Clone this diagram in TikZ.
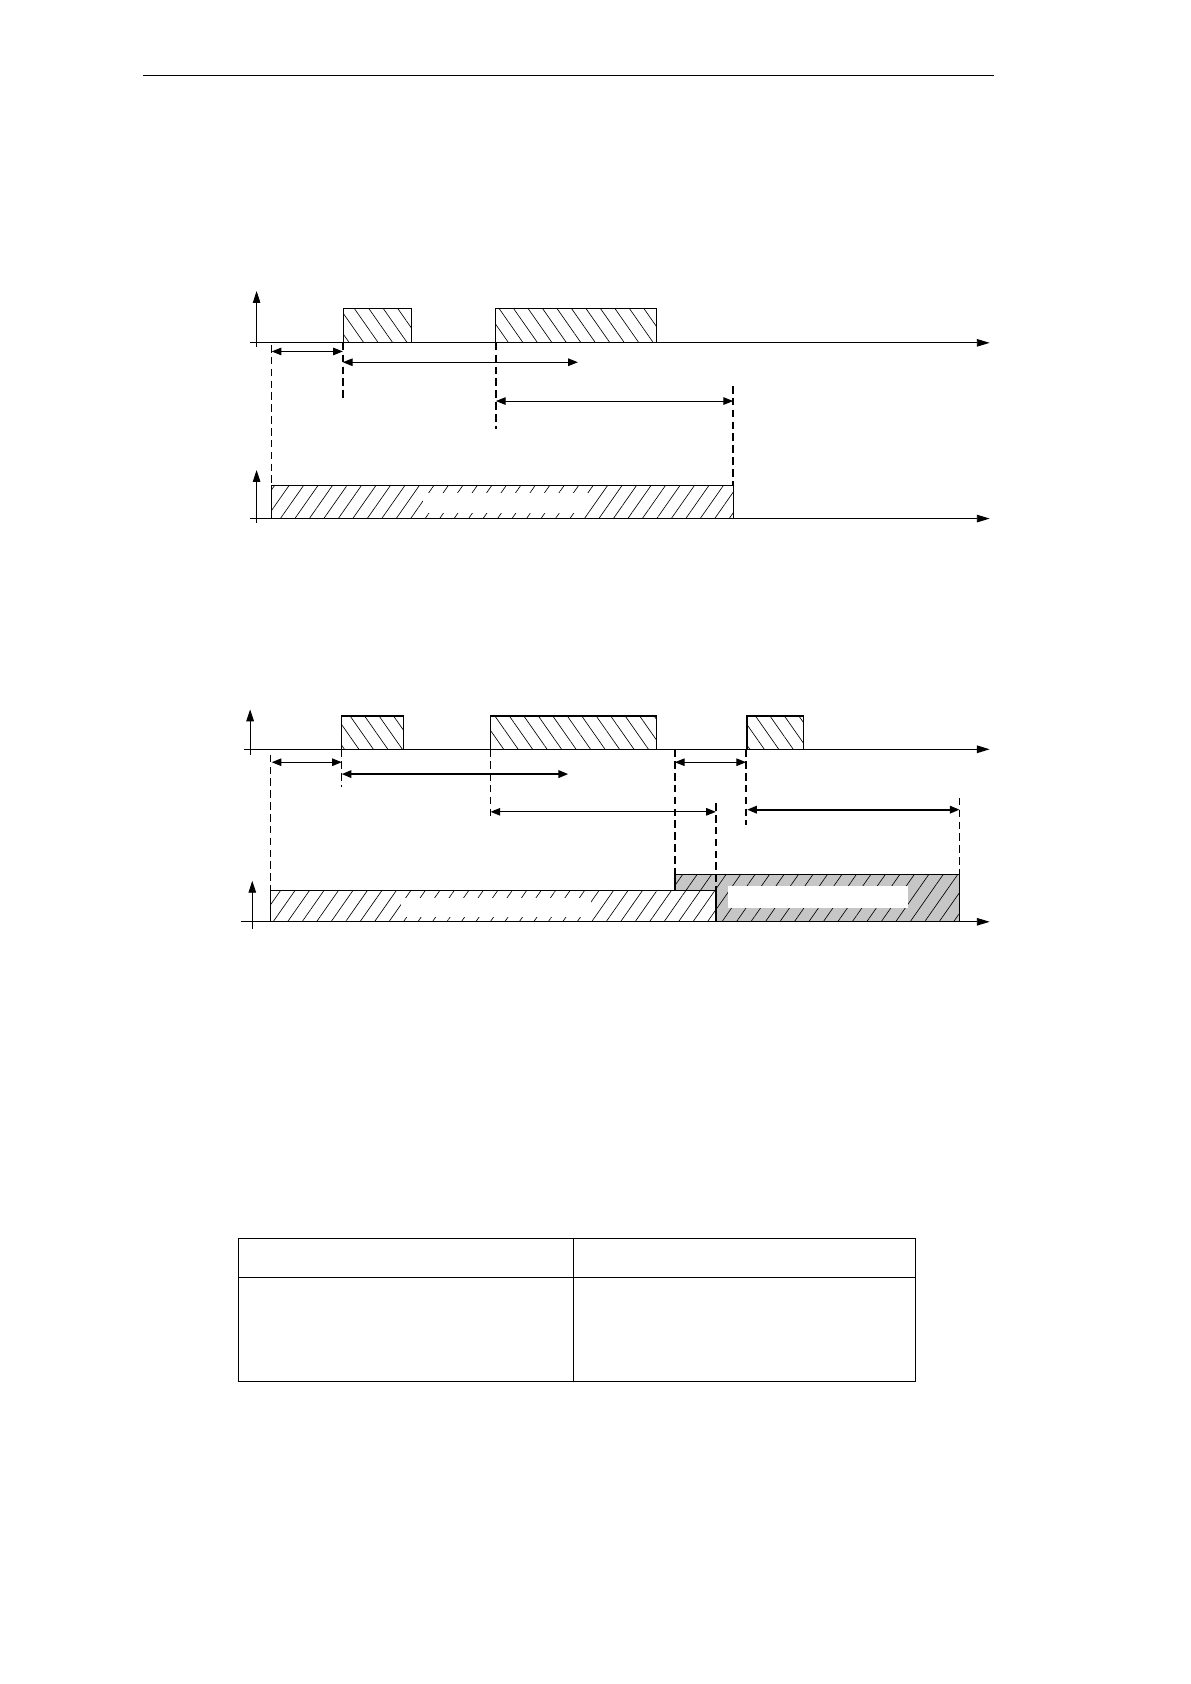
\documentclass[tikz,border=0pt]{standalone}
\usepackage{tikz}
\usetikzlibrary{arrows.meta,patterns.meta}

\begin{document}
\begin{tikzpicture}[
            x = 1pt, y = -1pt, % page pixels, y downwards
            line width = 0.9pt,
            axis/.style = {-{Triangle[length=12pt,width=7pt]}},
            yaxis/.style = {-{Triangle[length=11pt,width=7pt]}},
            span/.style = {{Triangle[length=9pt,width=7pt]}-{Triangle[length=9pt,width=7pt]}},
            guide/.style = {dashed, dash pattern=on 7pt off 4pt, line width=1.3pt},
            pulse/.style = {draw, pattern={Lines[angle=-55,distance=11pt,line width=0.6pt]}},
            busy/.style = {draw, pattern={Lines[angle=55,distance=11pt,line width=0.6pt]}}
        ]
	\useasboundingbox (0,0) rectangle (1104,1562);

	% header rule
	\coordinate (hl) at (133,70);
	\coordinate (hr) at (922,70);
	\draw[line width=0.7pt] (hl) -- (hr);

	% first chart: input pulses
	\coordinate (a0) at (232,318);
	\coordinate (a1) at (918,318);
	\draw[axis] (a0) -- (a1);
	\draw[yaxis,line width=0.7pt] (238,322) -- (238,270);
	\draw[pulse] (319,286) rectangle (382,318);
	\draw[pulse] (460,286) rectangle (609,318);

	% first chart: output
	\coordinate (b0) at (232,481);
	\coordinate (b1) at (918,481);
	\draw[axis] (b0) -- (b1);
	\draw[yaxis,line width=0.7pt] (238,485) -- (238,436);
	\draw[busy] (252,450) rectangle (680,481);
	\fill[white] (392,457) rectangle (545,476);

	% first chart: timing marks
	\coordinate (p1) at (252,326);
	\coordinate (p2) at (318,326);
	\coordinate (p3) at (318,336);
	\coordinate (p4) at (536,336);
	\coordinate (p5) at (460,372);
	\coordinate (p6) at (680,372);
	\draw[guide] (252,320) -- (252,450);
	\draw[guide] (318,318) -- (318,370);
	\draw[guide] (460,318) -- (460,398);
	\draw[guide] (680,358) -- (680,450);
	\draw[span] (p1) -- (p2);
	\draw[span] (p3) -- (p4);
	\draw[span] (p5) -- (p6);

	% second chart: input pulses
	\coordinate (c0) at (226,695);
	\coordinate (c1) at (918,695);
	\draw[axis,line width=1.3pt] (c0) -- (c1);
	\draw[yaxis,line width=0.7pt] (232,700) -- (232,658);
	\draw[pulse,line width=1.3pt] (317,664) rectangle (374,695);
	\draw[pulse,line width=1.3pt] (455,664) rectangle (609,695);
	\draw[pulse,line width=1.3pt] (693,664) rectangle (745,695);

	% second chart: output
	\coordinate (d0) at (224,855);
	\coordinate (d1) at (918,855);
	\draw[axis] (d0) -- (d1);
	\draw[yaxis,line width=0.7pt] (234,862) -- (234,817);
	\fill[gray!45] (626,811) rectangle (890,855);
	\draw[busy,line width=1.3pt] (626,811) rectangle (890,855);
	\fill[white] (675,822) rectangle (842,842);
	\fill[white] (251,826) rectangle (664,855);
	\draw[busy,line width=1.3pt] (251,826) rectangle (664,855);
	\fill[white] (372,833) rectangle (548,851);

	% second chart: timing marks
	\coordinate (q1) at (252,707);
	\coordinate (q2) at (317,707);
	\coordinate (q3) at (317,718);
	\coordinate (q4) at (527,718);
	\coordinate (q5) at (455,753);
	\coordinate (q6) at (664,753);
	\coordinate (q7) at (626,707);
	\coordinate (q8) at (692,707);
	\coordinate (q9) at (693,751);
	\coordinate (q10) at (890,751);
	\draw[guide] (251,700) -- (251,826);
	\draw[guide] (317,695) -- (317,730);
	\draw[guide] (455,695) -- (455,760);
	\draw[guide] (626,695) -- (626,811);
	\draw[guide] (664,745) -- (664,826);
	\draw[guide] (692,695) -- (692,765);
	\draw[guide] (890,740) -- (890,811);
	\draw[span] (q1) -- (q2);
	\draw[span,line width=1.6pt] (q3) -- (q4);
	\draw[span] (q5) -- (q6);
	\draw[span] (q7) -- (q8);
	\draw[span,line width=1.6pt] (q9) -- (q10);

	% table
	\draw[line width=1pt] (221,1149) rectangle (849,1281);
	\draw[line width=1pt] (532,1149) -- (532,1281);
	\draw[line width=1pt] (221,1185) -- (849,1185);

\end{tikzpicture}
\end{document}
